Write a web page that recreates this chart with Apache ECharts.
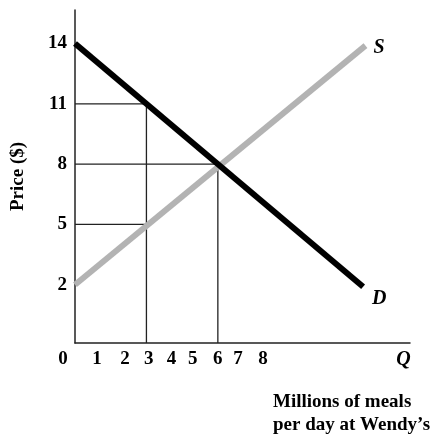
<!DOCTYPE html>
<html>
<head>
<meta charset="utf-8">
<script src="https://cdn.jsdelivr.net/npm/echarts@6/dist/echarts.min.js"></script>
<style>html,body{margin:0;padding:0;background:#fff}#c{width:447px;height:437px}</style>
</head>
<body>
<div id="c"></div>
<script>
// Data
var demandQ = [0, 12.1];
var demandP = [14, 1.9];
var supplyQ = [0, 12.2];
var supplyP = [2, 13.9];
var yTicks = [14, 11, 8, 5, 2];
var xTickLabels = ['0', '1', '2', '3', '4', '5', '6', '7', '8', 'Q'];
var xTickPos = [-0.5, 0.92, 2.1, 3.1, 4.05, 4.95, 6.0, 6.85, 7.9, 13.8];
var guideH = [[0, 11, 3], [0, 8, 6], [0, 5, 3]];   // [fromQ, P, toQ]
var guideV = [[3, 11], [6, 8]];                    // [Q, P]
var yMin = -0.9, yMax = 15.67, xMax = 14.07;

var FONT = '"Liberation Serif", "DejaVu Serif", serif';
var chart = echarts.init(document.getElementById('c'), null, {renderer: 'canvas'});

var series = [];
guideH.forEach(function (g) {
  series.push({type: 'line', xAxisIndex: 0, yAxisIndex: 0, symbol: 'none', silent: true,
    data: [[g[0], g[1]], [g[2], g[1]]], lineStyle: {color: '#222', width: 1.3}, z: 1});
});
guideV.forEach(function (g) {
  series.push({type: 'line', xAxisIndex: 0, yAxisIndex: 0, symbol: 'none', silent: true,
    data: [[g[0], yMin], [g[0], g[1]]], lineStyle: {color: '#222', width: 1.3}, z: 1});
});
series.push({type: 'line', name: 'S', xAxisIndex: 0, yAxisIndex: 0, symbol: 'none',
  data: supplyQ.map(function (q, i) { return [q, supplyP[i]]; }),
  lineStyle: {color: '#b3b3b3', width: 6, cap: 'butt'}, z: 3,
  endLabel: {show: true, formatter: 'S', fontFamily: FONT, fontStyle: 'italic', fontWeight: 'bold',
    fontSize: 20, color: '#000', offset: [0, 2]}});
series.push({type: 'line', name: 'D', xAxisIndex: 0, yAxisIndex: 0, symbol: 'none',
  data: demandQ.map(function (q, i) { return [q, demandP[i]]; }),
  lineStyle: {color: '#000', width: 6, cap: 'butt'}, z: 4,
  endLabel: {show: true, formatter: 'D', fontFamily: FONT, fontStyle: 'italic', fontWeight: 'bold',
    fontSize: 20, color: '#000', offset: [1, 12]}});

var option = {
  animation: false,
  backgroundColor: '#fff',
  title: {
    text: 'Millions of meals\nper day at Wendy\u2019s',
    left: 268, top: 386,
    textStyle: {fontFamily: FONT, fontWeight: 'bold', fontSize: 19, color: '#000', lineHeight: 23}
  },
  grid: [
    {left: 75, right: 37, top: 10, bottom: 94, containLabel: false, outerBoundsMode: 'none'},
    {left: 51.2, right: 37, top: 10, bottom: 94, containLabel: false, outerBoundsMode: 'none'}
  ],
  xAxis: [
    {type: 'value', gridIndex: 0, min: 0, max: xMax,
      axisLine: {show: true, onZero: false, lineStyle: {color: '#222', width: 1.5}},
      axisTick: {show: false}, axisLabel: {show: false}, splitLine: {show: false}},
    {type: 'value', gridIndex: 1, min: -1, max: xMax,
      axisLine: {show: false}, axisTick: {show: false}, splitLine: {show: false},
      axisLabel: {show: true, margin: 7, customValues: xTickPos,
        formatter: function (v) {
          for (var i = 0; i < xTickPos.length; i++) {
            if (Math.abs(xTickPos[i] - v) < 1e-6) {
              return xTickLabels[i] === 'Q' ? '{q|Q}' : xTickLabels[i];
            }
          }
          return '';
        },
        fontFamily: FONT, fontWeight: 'bold', fontSize: 19, color: '#000',
        rich: {q: {fontFamily: FONT, fontStyle: 'italic', fontWeight: 'bold', fontSize: 20, color: '#000'}}}}
  ],
  yAxis: [
    {type: 'value', gridIndex: 0, min: yMin, max: yMax,
      name: 'Price ($)', nameLocation: 'middle', nameGap: 47, nameRotate: 90,
      nameTextStyle: {fontFamily: FONT, fontWeight: 'bold', fontSize: 19, color: '#000'},
      axisLine: {show: true, onZero: false, lineStyle: {color: '#222', width: 1.5}},
      axisTick: {show: false}, splitLine: {show: false},
      axisLabel: {show: true, margin: 8, customValues: yTicks,
        fontFamily: FONT, fontWeight: 'bold', fontSize: 19, color: '#000'}},
    {type: 'value', gridIndex: 1, min: yMin, max: yMax, show: false}
  ],
  series: series
};
chart.setOption(option);
</script>
</body>
</html>
